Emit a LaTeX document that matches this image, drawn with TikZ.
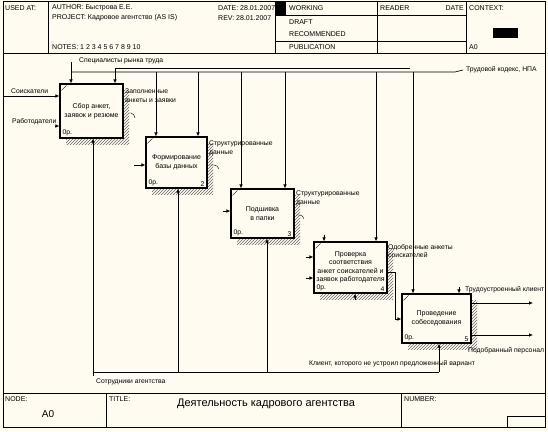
\documentclass[tikz,border=0pt]{standalone}
\usepackage{fontspec}
\setmainfont{Liberation Sans}
\usetikzlibrary{arrows.meta,patterns}
\definecolor{paper}{RGB}{255,251,240}

\begin{document}
\begin{tikzpicture}[x=1pt,y=-1pt,
  fn/.style={draw,line width=1.2pt,fill=paper,align=center,inner sep=1pt,
    font=\fontsize{7}{8.5}\selectfont},
  lbl/.style={inner sep=0pt,align=left,font=\fontsize{6.8}{8.5}\selectfont},
  hd/.style={inner sep=0pt,anchor=west,font=\fontsize{7}{8}\selectfont},
  arr/.style={line width=0.7pt,-{Latex[length=4pt,width=3.6pt]}},
  hatch/.style={pattern=north east lines,pattern color=black!60}]
  \useasboundingbox (0,0) rectangle (548,431);
  \fill[paper] (0,0) rectangle (548,431);
  \draw[line width=0.8pt] (3,1) rectangle (545,427);
  \draw[line width=0.8pt] (3,53) -- (545,53) (3,393) -- (545,393)
    (48,1) -- (48,53) (275,1) -- (275,53) (377,1) -- (377,53) (466,1) -- (466,53)
    (275,15) -- (466,15) (275,41) -- (466,41)
    (106,393) -- (106,427) (401,393) -- (401,427) (507,416) rectangle (545,427);
  \fill (275,1) rectangle (286,15);
  \fill (493,28) rectangle (518,38);

  \node[hd] (used) at (5,8) {USED AT:};
  \node[hd] (author) at (52,8) {AUTHOR: Быстрова Е.Е.};
  \node[hd] (date) at (218,8) {DATE: 28.01.2007};
  \node[hd] (working) at (289,8) {WORKING};
  \node[hd] (reader) at (380,8) {READER};
  \node[hd,anchor=east] (rdate) at (464,8) {DATE};
  \node[hd] (context) at (469,8) {CONTEXT:};
  \node[hd] (project) at (52,18) {PROJECT: Кадровое агентство (AS IS)};
  \node[hd] (rev) at (218,18) {REV: 28.01.2007};
  \node[hd] (draft) at (289,22) {DRAFT};
  \node[hd] (recom) at (289,34) {RECOMMENDED};
  \node[hd] (notes) at (52,47) {NOTES: 1 2 3 4 5 6 7 8 9 10};
  \node[hd] (publ) at (289,47) {PUBLICATION};
  \node[hd] (ctx) at (469,47) {A0};
  \node[hd] (node) at (5,399) {NODE:};
  \node[hd,anchor=center,font=\fontsize{10}{12}\selectfont] (nodeno) at (48,414) {A0};
  \node[hd] (title) at (109,399) {TITLE:};
  \node[hd,anchor=center,font=\fontsize{11}{13}\selectfont] (ttext) at (266,404) {Деятельность кадрового агентства};
  \node[hd] (number) at (404,399) {NUMBER:};

  \foreach \n/\x/\y/\w/\h/\t in {b1/91.5/111/63/54/{Сбор анкет,\\заявок и резюме},
      b2/176.5/162.5/61/51/{Формирование\\базы данных},
      b3/262.5/213.5/63/49/{Подшивка\\в папки},
      b4/350.5/267.5/73/51/{Проверка\\соответствия\\анкет соискателей и\\заявок работодателя},
      b5/436.5/318.5/69/49/{Проведение\\собеседования}} {
    \fill[hatch] ({\x-\w/2+6},{\y-\h/2+6}) rectangle ({\x+\w/2+6},{\y+\h/2+6});
    \node[fn,minimum width=\w pt,minimum height=\h pt] (\n) at (\x,\y) {\t};
    \draw ([shift={(2,7)}]\n.north west) -- ([shift={(7,2)}]\n.north west);
    \node[lbl,anchor=south west] (\n-cost) at ([shift={(3,-2)}]\n.south west) {0р.};
  }
  \foreach \n/\k in {b2/2,b3/3,b4/4,b5/5}
    \node[lbl,anchor=south east] (\n-no) at ([shift={(-3,-2)}]\n.south east) {\k};

  \coordinate (sp) at (71,62);
  \coordinate (kL) at (71,72);
  \coordinate (kR) at (455,72);
  \coordinate (u1) at (115,68);
  \coordinate (u2) at (410,68);
  \node[lbl,anchor=west] (lsp) at (79,61) {Специалисты рынка труда};
  \node[lbl,anchor=west] (ltk) at (466,70) {Трудовой кодекс, НПА};
  \draw[arr] (sp) -- (sp |- b1.north);
  \draw[line width=0.7pt] (kL) -- (kR) -- ([xshift=-3pt]ltk.west);
  \draw[line width=0.7pt] (u1) -- (u2);
  \draw[arr] (u1) -- (u1 |- b1.north);
  \foreach \x/\b in {156/b2,198/b2,241/b3,285/b3,376/b4,413/b5} {
    \coordinate (k\x) at (\x,72);
    \draw[arr] (k\x) -- (k\x |- \b.north);
  }
  \foreach \x/\y/\b in {324/235/b4,459/287/b5} {
    \coordinate (t\x) at (\x,\y);
    \draw[arr] (t\x) -- (t\x |- \b.north);
  }

  \node[lbl,anchor=west] (lso) at (11,91) {Соискатели};
  \node[lbl,anchor=west] (lra) at (12,122) {Работодатели};
  \coordinate (i1) at (3,96);
  \coordinate (i2) at (55,126);
  \draw[arr] (i1) -- (i1 -| b1.west);
  \draw[arr] (i2) -- (i2 -| b1.west);
  \foreach \x/\y/\b in {134/165/b2,223/211/b3,306/257/b4,306/278/b4} {
    \coordinate (s\x\y) at (\x,\y);
    \draw[arr] (s\x\y) -- (s\x\y -| \b.west);
  }

  \coordinate (ms) at (93,376);
  \coordinate (me) at (439,372);
  \draw[line width=0.7pt] (ms) -- (ms |- me) -- (me);
  \foreach \x/\b in {93/b1,178/b2,267/b3,439/b5} {
    \coordinate (m\x) at (\x,372);
    \draw[arr] (m\x) -- (m\x |- \b.south);
  }
  \coordinate (m4) at (355,300);
  \draw[arr] (m4) -- (m4 |- b4.south);
  \node[lbl,anchor=west] (lst) at (96,382) {Сотрудники агентства};

  \coordinate (j4) at (395,272);
  \coordinate (j5) at (395,319);
  \draw[arr] (b4.east |- j4) -- (j4) -- (j5) -- (j5 -| b5.west);
  \coordinate (q1) at (533,303);
  \coordinate (q2) at (533,335);
  \draw[arr] (q1 -| b5.east) -- (q1);
  \draw[arr] (q2 -| b5.east) -- (q2);

  \node[lbl,anchor=north west] (lo1) at (125,89) {Заполненные\\анкеты и заявки};
  \node[lbl,anchor=north west] (lo2) at (209,141) {Структурированные\\данные};
  \node[lbl,anchor=north west] (lo3) at (296,191) {Структурированные\\данные};
  \node[lbl,anchor=north west] (lo4) at (388,244) {Одобренные анкеты\\соискателей};
  \node[lbl,anchor=west] (lo5) at (465,290) {Трудоустроенный клиент};
  \node[lbl,anchor=west] (lo6) at (468,351) {Подобранный персонал};
  \node[lbl,anchor=west] (lfb) at (309,364) {Клиент, которого не устроил предложенный вариант};
  \draw (129,113) -- (131,113) to[out=0,in=110] (135,118);
  \draw (209,165) -- (214,165) to[out=0,in=110] (219,169);
  \draw (296,215) -- (300,215) to[out=0,in=110] (304,219);
\end{tikzpicture}
\end{document}
